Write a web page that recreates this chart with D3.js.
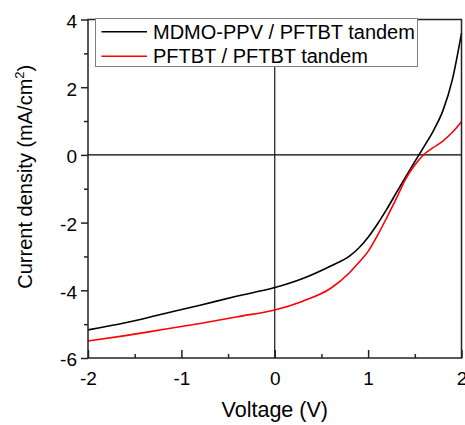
<!DOCTYPE html>
<html>
<head>
<meta charset="utf-8">
<script src="https://cdn.jsdelivr.net/npm/d3@7"></script>
<style>
  html, body { margin: 0; padding: 0; background: #fff; }
  svg { display: block; font-family: "Liberation Sans", Arial, sans-serif; }
</style>
</head>
<body>
<svg id="chart" width="465" height="425"></svg>
<script>
// J-V curves of the two tandem cells
const voltage = [-2, -1.6, -1.2, -0.8, -0.4, 0, 0.3, 0.6, 0.8, 0.9, 1.0, 1.1, 1.2, 1.3, 1.4, 1.5, 1.6, 1.7, 1.8, 1.9, 2.0];
const currentMdmo = [-5.17, -4.96, -4.70, -4.44, -4.17, -3.92, -3.65, -3.28, -2.99, -2.75, -2.43, -2.04, -1.60, -1.13, -0.66, -0.20, 0.25, 0.72, 1.30, 2.2, 3.6];
const currentPftbt = [-5.50, -5.34, -5.16, -4.98, -4.78, -4.58, -4.32, -3.94, -3.48, -3.18, -2.85, -2.38, -1.85, -1.30, -0.72, -0.30, 0.02, 0.22, 0.41, 0.66, 0.98];
const seriesNames = ["MDMO-PPV / PFTBT tandem", "PFTBT / PFTBT tandem"];
const seriesColors = ["#000000", "#ff0000"];
const xTicks = [-2, -1, 0, 1, 2];
const xMinorTicks = [-1.5, -0.5, 0.5, 1.5];
const yTicks = [4, 2, 0, -2, -4, -6];
const yMinorTicks = [3, 1, -1, -3, -5];

const svg = d3.select("#chart");
const plotLeft = 88, plotRight = 461.5, plotTop = 19.5, plotBottom = 358;

const x = d3.scaleLinear().domain([-2, 2]).range([plotLeft, plotRight]);
const y = d3.scaleLinear().domain([-6, 4]).range([plotBottom, plotTop]);

const axisColor = "#222";
const plainNumber = d => String(d);

// zero reference lines
svg.append("line")
  .attr("x1", x(0)).attr("x2", x(0)).attr("y1", plotTop).attr("y2", plotBottom)
  .attr("stroke", "#000").attr("stroke-width", 1.1);
svg.append("line")
  .attr("x1", plotLeft).attr("x2", plotRight).attr("y1", y(0)).attr("y2", y(0))
  .attr("stroke", "#000").attr("stroke-width", 1.1);

// curves
const line = d3.line()
  .x(d => x(d[0]))
  .y(d => y(d[1]))
  .curve(d3.curveMonotoneX);

[currentMdmo, currentPftbt].forEach((vals, i) => {
  svg.append("path")
    .datum(voltage.map((v, k) => [v, vals[k]]))
    .attr("fill", "none")
    .attr("stroke", seriesColors[i])
    .attr("stroke-width", 1.6)
    .attr("d", line);
});

// frame
svg.append("rect")
  .attr("x", plotLeft).attr("y", plotTop)
  .attr("width", plotRight - plotLeft).attr("height", plotBottom - plotTop)
  .attr("fill", "none").attr("stroke", axisColor).attr("stroke-width", 1.5);

// bottom axis: ticks point inward
const xAxis = svg.append("g").attr("transform", `translate(0,${plotBottom})`);
xAxis.append("g").attr("class", "major")
  .call(d3.axisBottom(x).tickValues(xTicks).tickSizeInner(-8).tickSizeOuter(0).tickPadding(14).tickFormat(plainNumber));
xAxis.append("g").attr("class", "minor")
  .call(d3.axisBottom(x).tickValues(xMinorTicks).tickSizeInner(-4).tickSizeOuter(0).tickFormat(() => ""));
xAxis.selectAll(".domain").remove();
xAxis.selectAll("line").attr("stroke", axisColor).attr("stroke-width", 1.5);
xAxis.selectAll(".major text").attr("font-size", 19).attr("fill", "#000")
  .attr("font-family", "Liberation Sans, Arial, sans-serif");

// left axis: ticks point outward
const yAxis = svg.append("g").attr("transform", `translate(${plotLeft},0)`);
yAxis.append("g").attr("class", "major")
  .call(d3.axisLeft(y).tickValues(yTicks).tickSizeInner(7).tickSizeOuter(0).tickPadding(4).tickFormat(plainNumber));
yAxis.append("g").attr("class", "minor")
  .call(d3.axisLeft(y).tickValues(yMinorTicks).tickSizeInner(4).tickSizeOuter(0).tickFormat(() => ""));
yAxis.selectAll(".domain").remove();
yAxis.selectAll("line").attr("stroke", axisColor).attr("stroke-width", 1.5);
yAxis.selectAll(".major text").attr("font-size", 19).attr("fill", "#000")
  .attr("font-family", "Liberation Sans, Arial, sans-serif")
  .attr("dy", "0.42em");

// axis titles
svg.append("text")
  .attr("x", (plotLeft + plotRight) / 2).attr("y", 417)
  .attr("text-anchor", "middle").attr("font-size", 21.5).attr("fill", "#000")
  .text("Voltage (V)");

const yTitle = svg.append("text")
  .attr("transform", `translate(32,${(plotTop + plotBottom) / 2 - 12}) rotate(-90)`)
  .attr("text-anchor", "middle").attr("font-size", 20).attr("fill", "#000");
yTitle.append("tspan").text("Current density (mA/cm");
yTitle.append("tspan").attr("font-size", 13).attr("dy", -8).text("2");
yTitle.append("tspan").attr("dy", 8).text(")");

// legend
const legend = svg.append("g");
legend.append("rect")
  .attr("x", 95.5).attr("y", 18.5).attr("width", 322).attr("height", 48)
  .attr("fill", "#fff").attr("stroke", "#808080").attr("stroke-width", 1);
seriesNames.forEach((name, i) => {
  const cy = 31.7 + i * 24.5;
  legend.append("line")
    .attr("x1", 101.5).attr("x2", 147).attr("y1", cy).attr("y2", cy)
    .attr("stroke", seriesColors[i]).attr("stroke-width", 1.6);
  legend.append("text")
    .attr("x", 153).attr("y", cy + 7)
    .attr("font-size", 20).attr("fill", "#000")
    .text(name);
});
</script>
</body>
</html>
